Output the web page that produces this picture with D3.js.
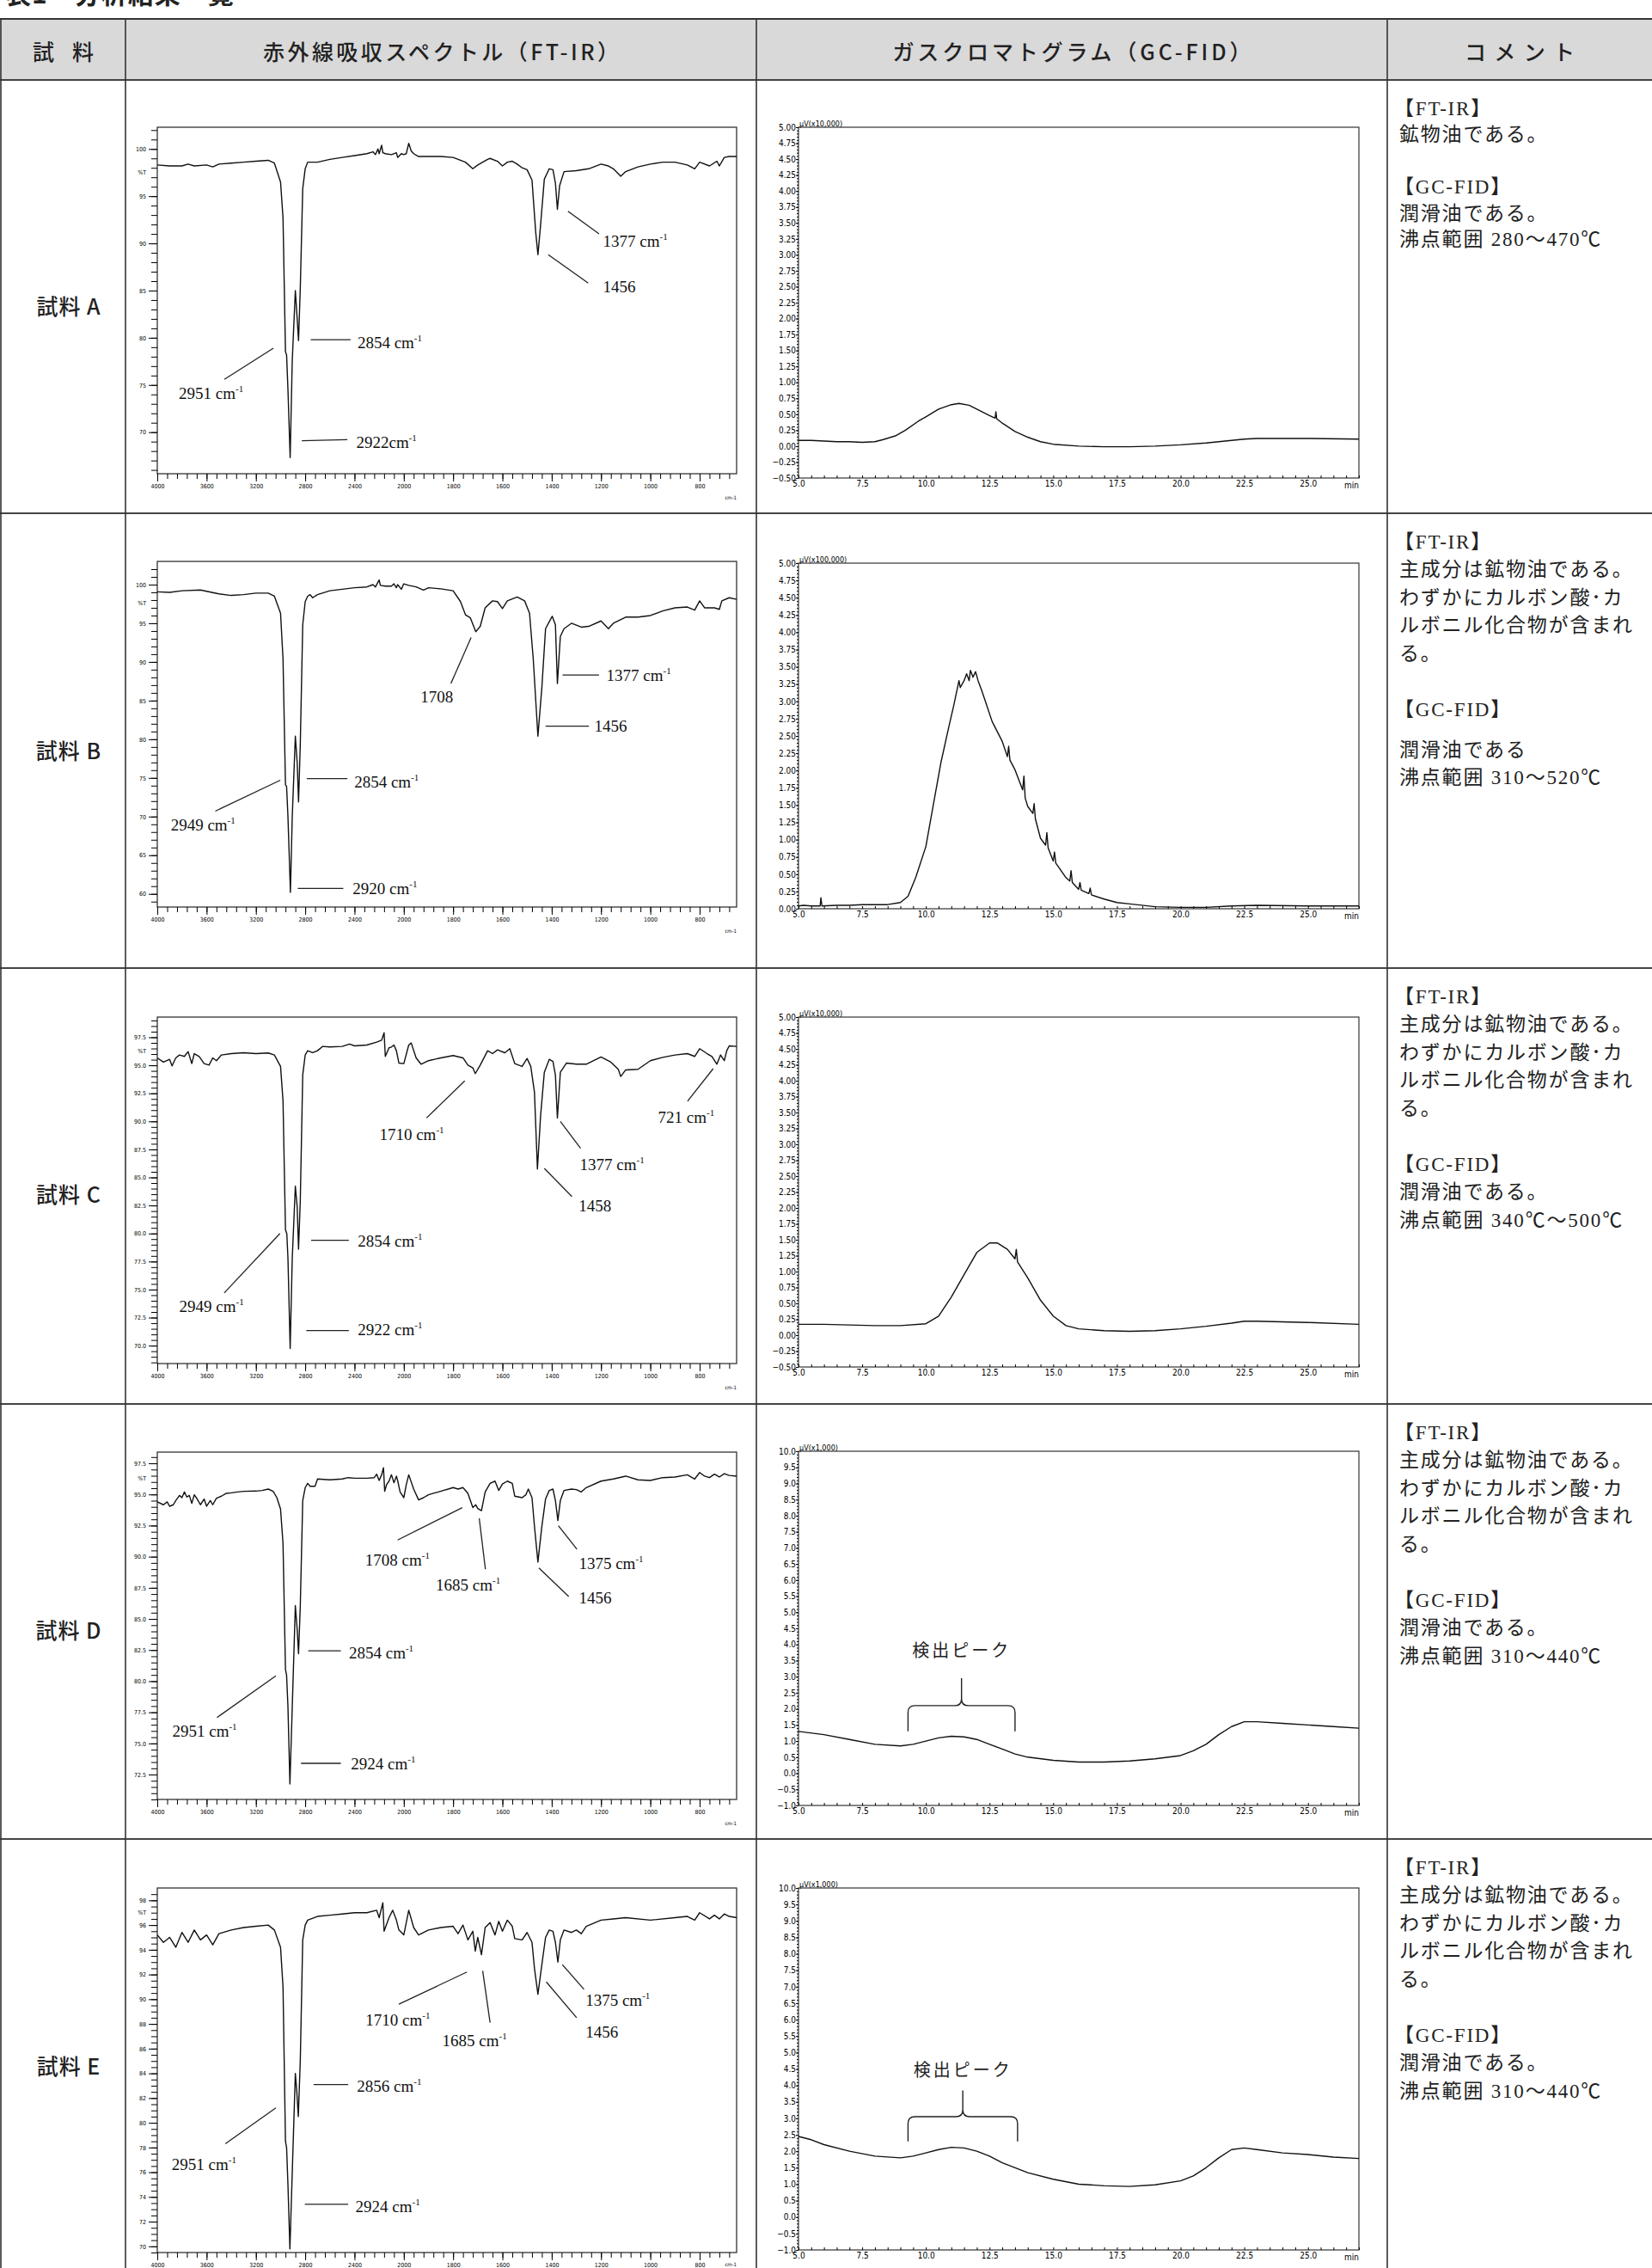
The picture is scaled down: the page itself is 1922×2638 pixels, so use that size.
<!DOCTYPE html>
<html>
<head>
<meta charset="utf-8">
<script src="https://cdn.jsdelivr.net/npm/d3@7"></script>
<style>
body { margin: 0; background: #fff; }
</style>
</head>
<body>
<div id="viz"></div>
<script>

// ---- Table texts ----
var title = "表1　分析結果一覧";
var headers = ["試料", "赤外線吸収スペクトル（FT-IR）", "ガスクロマトグラム（GC-FID）", "コメント"];
var samples = ["試料 A", "試料 B", "試料 C", "試料 D", "試料 E"];

// "" = blank line, "-" = half blank line
var commentA = ["【FT-IR】", "鉱物油である。", "", "【GC-FID】", "潤滑油である。", "沸点範囲  280～470℃"];
var commentB = ["【FT-IR】", "主成分は鉱物油である。", "わずかにカルボン酸･カ", "ルボニル化合物が含まれ", "る。", "", "【GC-FID】", "-", "潤滑油である", "沸点範囲 310～520℃"];
var commentC = ["【FT-IR】", "主成分は鉱物油である。", "わずかにカルボン酸･カ", "ルボニル化合物が含まれ", "る。", "", "【GC-FID】", "潤滑油である。", "沸点範囲 340℃～500℃"];
var commentD = ["【FT-IR】", "主成分は鉱物油である。", "わずかにカルボン酸･カ", "ルボニル化合物が含まれ", "る。", "", "【GC-FID】", "潤滑油である。", "沸点範囲 310～440℃"];
var commentE = ["【FT-IR】", "主成分は鉱物油である。", "わずかにカルボン酸･カ", "ルボニル化合物が含まれ", "る。", "", "【GC-FID】", "潤滑油である。", "沸点範囲 310～440℃"];

// ---- FT-IR spectra: [wavenumber cm-1, %T] ----
var irA = [[4000,98.3],[3900,98.2],[3800,98.2],[3750,98.4],[3700,98.2],[3600,98.3],[3550,98.1],[3500,98.4],[3400,98.5],[3300,98.6],[3200,98.7],[3100,98.8],[3050,98.5],[3000,96.5],[2980,92.7],[2960,78.5],[2951,78.2],[2940,74.5],[2922,67.3],[2905,77.6],[2880,85.0],[2865,82.0],[2854,79.7],[2840,85.2],[2820,95.8],[2800,97.9],[2780,98.6],[2700,98.6],[2600,98.9],[2500,99.1],[2400,99.3],[2300,99.5],[2250,99.7],[2230,99.4],[2210,100.0],[2200,99.5],[2180,100.4],[2170,99.6],[2150,99.5],[2100,99.4],[2060,99.6],[2050,99.1],[2020,99.5],[2000,99.4],[1990,99.5],[1980,100.6],[1970,99.8],[1960,99.5],[1940,99.2],[1900,99.2],[1850,99.2],[1800,99.1],[1750,98.6],[1720,97.9],[1700,98.3],[1660,98.9],[1650,99.0],[1620,98.7],[1600,98.2],[1580,98.6],[1560,98.7],[1540,98.4],[1520,98.0],[1500,97.8],[1480,96.7],[1465,91.2],[1456,88.8],[1445,92.0],[1430,96.8],[1410,97.9],[1395,97.8],[1385,96.4],[1377,93.6],[1368,96.1],[1350,97.6],[1300,97.7],[1250,97.9],[1200,98.4],[1170,98.2],[1150,97.9],[1120,97.1],[1100,97.6],[1050,98.1],[1000,98.4],[950,98.6],[900,98.6],[850,98.3],[820,97.9],[800,98.6],[760,98.2],[730,98.7],[720,98.2],[700,99.1],[680,99.2],[650,99.2]];
var irB = [[4000,99.07],[3900,99.0],[3800,99.2],[3650,99.3],[3500,98.8],[3400,98.6],[3300,98.7],[3200,98.9],[3100,98.9],[3050,98.5],[3000,96.3],[2980,90.4],[2960,74.1],[2951,73.9],[2940,70.0],[2920,60.2],[2905,70.0],[2880,80.4],[2865,77.0],[2854,71.9],[2840,79.3],[2820,94.8],[2800,97.8],[2780,98.5],[2760,98.7],[2740,98.3],[2700,98.7],[2600,99.2],[2500,99.4],[2400,99.6],[2300,99.7],[2250,100.0],[2230,99.7],[2200,100.6],[2190,99.9],[2150,99.8],[2100,99.8],[2080,100.1],[2060,99.6],[2050,100.0],[2020,99.4],[2000,100.1],[1980,99.9],[1950,99.7],[1920,99.3],[1900,99.6],[1850,99.45],[1800,99.2],[1770,97.8],[1750,96.1],[1730,95.7],[1708,93.9],[1690,94.6],[1670,97.0],[1640,97.9],[1620,97.8],[1600,96.9],[1580,97.9],[1540,98.4],[1510,97.9],[1490,96.3],[1475,90.4],[1456,80.4],[1440,86.7],[1425,94.3],[1410,95.2],[1398,95.9],[1385,94.8],[1377,87.2],[1365,93.3],[1350,94.3],[1320,95.0],[1280,94.5],[1250,94.6],[1200,95.3],[1170,94.3],[1150,95.0],[1100,95.8],[1050,95.8],[1000,96.0],[950,96.6],[900,97.0],[850,97.1],[820,96.7],[800,97.9],[780,97.0],[740,97.0],[720,96.8],[710,97.9],[680,98.3],[650,98.1]];
var irC = [[4000,95.66],[3950,95.28],[3900,95.53],[3880,94.95],[3850,95.66],[3820,95.92],[3780,95.79],[3750,96.22],[3720,95.15],[3700,96.04],[3660,95.79],[3620,95.15],[3580,95.02],[3550,95.66],[3520,95.41],[3480,95.92],[3400,96.04],[3300,96.12],[3200,96.04],[3100,96.1],[3050,95.92],[3000,94.9],[2980,91.83],[2960,80.34],[2949,79.96],[2940,77.79],[2922,69.74],[2905,77.79],[2880,84.22],[2865,82.38],[2854,78.6],[2840,82.9],[2820,94.13],[2800,95.92],[2780,96.3],[2740,96.12],[2700,96.3],[2660,96.68],[2600,96.63],[2500,96.68],[2440,96.89],[2400,96.73],[2300,96.81],[2220,97.07],[2180,97.24],[2160,97.9],[2150,95.79],[2120,96.56],[2100,96.63],[2080,96.81],[2060,96.3],[2040,95.2],[2000,95.15],[1980,96.81],[1970,96.99],[1950,95.66],[1930,95.1],[1900,95.41],[1850,95.66],[1800,95.87],[1760,95.66],[1740,95.02],[1720,94.77],[1710,94.26],[1690,95.02],[1660,96.3],[1640,96.04],[1620,96.38],[1590,96.12],[1570,96.48],[1550,95.15],[1520,94.9],[1500,95.61],[1485,94.9],[1470,92.6],[1458,85.75],[1445,90.55],[1430,94.38],[1410,95.53],[1395,95.35],[1385,94.13],[1377,90.3],[1365,94.38],[1340,95.2],[1300,95.1],[1260,95.1],[1200,95.74],[1160,95.28],[1130,94.64],[1120,94.0],[1100,94.59],[1050,94.64],[1000,95.41],[950,95.71],[900,95.92],[850,96.04],[820,95.79],[800,96.48],[770,96.04],[750,95.79],[730,95.1],[715,95.92],[700,95.41],[690,96.3],[680,96.73],[650,96.68]];
var irD = [[4000,94.4],[3950,94.17],[3920,94.4],[3900,94.05],[3870,94.17],[3850,94.51],[3820,94.92],[3800,94.74],[3780,95.2],[3760,94.79],[3740,94.92],[3720,94.28],[3700,94.97],[3680,94.69],[3650,94.17],[3620,94.63],[3600,94.05],[3570,94.51],[3550,94.17],[3520,94.69],[3480,94.86],[3440,95.09],[3400,95.13],[3350,95.2],[3300,95.25],[3200,95.27],[3150,95.32],[3100,95.43],[3060,95.25],[3030,94.74],[3000,93.82],[2980,91.06],[2960,80.94],[2951,80.48],[2940,77.95],[2924,71.74],[2905,77.95],[2880,86.07],[2865,84.16],[2854,82.2],[2840,86.0],[2820,94.51],[2800,95.55],[2780,95.89],[2760,95.66],[2720,95.66],[2700,96.24],[2600,96.17],[2500,96.24],[2450,96.35],[2400,96.3],[2300,96.3],[2240,96.35],[2220,96.63],[2200,96.12],[2180,96.58],[2165,97.15],[2155,95.25],[2140,95.78],[2120,96.07],[2100,96.58],[2080,95.94],[2060,96.47],[2050,96.12],[2030,95.2],[2000,94.74],[1990,95.78],[1980,96.58],[1960,95.43],[1940,94.56],[1920,94.74],[1900,94.97],[1880,95.09],[1860,95.2],[1840,95.32],[1820,95.43],[1800,95.55],[1780,95.43],[1760,95.55],[1740,95.09],[1720,93.94],[1708,94.17],[1700,93.87],[1685,93.7],[1670,95.2],[1650,95.89],[1630,96.07],[1615,95.32],[1600,95.84],[1580,96.07],[1560,95.89],[1550,94.86],[1520,94.74],[1505,94.97],[1495,95.43],[1480,94.74],[1470,92.44],[1456,89.57],[1440,92.44],[1425,94.63],[1410,95.32],[1395,95.43],[1385,94.51],[1375,92.9],[1365,94.51],[1350,95.32],[1320,95.43],[1300,95.39],[1280,95.2],[1260,95.55],[1200,96.07],[1150,96.24],[1100,96.47],[1050,96.17],[1000,96.12],[950,96.35],[900,96.4],[850,96.58],[820,96.24],[800,96.76],[780,96.47],[760,96.35],[740,96.63],[720,96.4],[700,96.67],[680,96.53],[650,96.47]];
var irE = [[4000,95.2],[3950,94.6],[3900,95.0],[3850,94.2],[3800,95.4],[3750,94.6],[3700,95.6],[3650,94.8],[3600,95.2],[3550,94.4],[3500,95.3],[3400,95.6],[3300,95.8],[3200,95.9],[3100,96.0],[3050,95.6],[3000,94.2],[2980,91.0],[2960,78.5],[2951,78.0],[2940,75.0],[2924,69.8],[2905,76.0],[2880,84.0],[2868,82.5],[2856,80.5],[2840,85.0],[2820,94.8],[2800,96.0],[2780,96.4],[2700,96.7],[2600,96.8],[2500,96.9],[2400,97.0],[2300,97.0],[2220,97.2],[2200,96.6],[2170,97.8],[2160,95.5],[2120,96.6],[2090,97.2],[2060,96.4],[2040,95.6],[2000,95.2],[1980,97.2],[1960,95.8],[1940,95.2],[1900,95.6],[1850,95.8],[1800,95.9],[1780,95.3],[1760,96.0],[1740,94.8],[1720,95.5],[1710,93.9],[1700,95.0],[1685,93.6],[1670,95.8],[1650,96.2],[1630,95.2],[1615,96.3],[1600,95.5],[1580,96.4],[1560,95.9],[1550,94.9],[1520,94.8],[1500,95.4],[1480,94.6],[1470,92.5],[1456,90.4],[1440,92.8],[1425,95.0],[1410,95.6],[1395,95.5],[1385,94.6],[1375,93.0],[1365,94.8],[1350,95.6],[1320,95.4],[1300,95.6],[1280,95.3],[1260,95.9],[1200,96.4],[1150,96.5],[1100,96.6],[1000,96.4],[900,96.6],[850,96.7],[820,96.4],[800,97.0],[760,96.5],[740,96.8],[720,96.5],[700,96.9],[680,96.7],[650,96.6]];

// %T axis: domain, labelled ticks [from, to, step], minor step, decimals, "%T" position
var irAxisA = {dom: [65.6, 102.3], lab: [70, 100, 5], minor: 1, dec: 0, pT: 97.5};
var irAxisB = {dom: [58.3, 103], lab: [60, 100, 5], minor: 1, dec: 0, pT: 97.5};
var irAxisC = {dom: [68.4, 99.3], lab: [70, 97.5, 2.5], minor: 0.5, dec: 1, pT: 96.25};
var irAxisD = {dom: [70.5, 98.4], lab: [72.5, 97.5, 2.5], minor: 0.5, dec: 1, pT: 96.25};
var irAxisE = {dom: [69.5, 99], lab: [70, 98, 2], minor: 0.5, dec: 0, pT: 97};

var irLabelsX = [4000, 3600, 3200, 2800, 2400, 2000, 1800, 1600, 1400, 1200, 1000, 800];

// peak labels: text, superscript, leader line [[cm-1,%T],[cm-1,%T]], text anchor point
var peaksA = [
  {t: "1377 cm", s: "-1", p: [[1334, 93.4], [1208, 91.0]], at: [1192, 89.6]},
  {t: "1456", s: "", p: [[1414, 88.8], [1252, 85.8]], at: [1192, 84.8]},
  {t: "2854 cm", s: "-1", p: [[2755, 79.8], [2432, 79.8]], at: [2376, 78.9]},
  {t: "2951 cm", s: "-1", p: [[3058, 78.9], [3456, 75.6]], at: [3825, 73.5]},
  {t: "2922cm", s: "-1", p: [[2827, 69.1], [2458, 69.2]], at: [2386, 68.3]}
];
var peaksB = [
  {t: "1708", s: "", p: [[1727, 93.15], [1809, 87.2]], at: [1932, 84.8]},
  {t: "1377 cm", s: "-1", p: [[1356, 88.3], [1208, 88.3]], at: [1178, 87.5]},
  {t: "1456", s: "", p: [[1425, 81.7], [1249, 81.7]], at: [1227, 81.0]},
  {t: "2854 cm", s: "-1", p: [[2787, 74.9], [2458, 74.9]], at: [2402, 73.8]},
  {t: "2949 cm", s: "-1", p: [[3002, 74.7], [3529, 70.7]], at: [3891, 68.2]},
  {t: "2920 cm", s: "-1", p: [[2860, 60.7], [2491, 60.7]], at: [2415, 60.0]}
];
var peaksC = [
  {t: "1710 cm", s: "-1", p: [[1753, 93.6], [1908, 90.3]], at: [2198, 88.3]},
  {t: "721 cm", s: "-1", p: [[745, 94.7], [849, 91.8]], at: [969, 89.9]},
  {t: "1377 cm", s: "-1", p: [[1365, 90.0], [1283, 87.6]], at: [1286, 85.65]},
  {t: "1458", s: "", p: [[1430, 85.8], [1318, 83.3]], at: [1291, 82.0]},
  {t: "2854 cm", s: "-1", p: [[2752, 79.4], [2446, 79.4]], at: [2373, 78.8]},
  {t: "2949 cm", s: "-1", p: [[3005, 80.0], [3457, 74.7]], at: [3822, 73.0]},
  {t: "2922 cm", s: "-1", p: [[2791, 71.35], [2446, 71.35]], at: [2373, 70.9]}
];
var peaksD = [
  {t: "1708 cm", s: "-1", p: [[1763, 93.94], [2050, 91.34]], at: [2314, 89.27]},
  {t: "1685 cm", s: "-1", p: [[1694, 93.08], [1669, 88.99]], at: [1870, 87.27]},
  {t: "1375 cm", s: "-1", p: [[1373, 92.49], [1298, 90.6]], at: [1290, 89.04]},
  {t: "1456", s: "", p: [[1452, 89.1], [1331, 86.8]], at: [1290, 86.28]},
  {t: "2854 cm", s: "-1", p: [[2775, 82.44], [2511, 82.44]], at: [2445, 81.81]},
  {t: "2951 cm", s: "-1", p: [[3038, 80.43], [3516, 77.08]], at: [3878, 75.54]},
  {t: "2924 cm", s: "-1", p: [[2834, 73.4], [2511, 73.4]], at: [2429, 72.94]}
];
var peaksE = [
  {t: "1710 cm", s: "-1", p: [[1744, 92.2], [2040, 89.6]], at: [2310, 87.9]},
  {t: "1685 cm", s: "-1", p: [[1680, 92.3], [1650, 88.1]], at: [1844, 86.2]},
  {t: "1375 cm", s: "-1", p: [[1357, 92.8], [1269, 90.8]], at: [1263, 89.5]},
  {t: "1456", s: "", p: [[1422, 91.4], [1299, 88.5]], at: [1263, 86.9]},
  {t: "2856 cm", s: "-1", p: [[2732, 83.1], [2451, 83.1]], at: [2380, 82.5]},
  {t: "2951 cm", s: "-1", p: [[3038, 81.2], [3448, 78.3]], at: [3883, 76.2]},
  {t: "2924 cm", s: "-1", p: [[2803, 73.4], [2451, 73.4]], at: [2392, 72.8]}
];

// ---- GC-FID chromatograms: [min, signal] ----
var gcA = [[5,0.09],[5.5,0.09],[6,0.08],[6.5,0.07],[7,0.07],[7.5,0.06],[8,0.07],[8.3,0.1],[8.8,0.16],[9.2,0.25],[9.7,0.39],[10,0.46],[10.5,0.58],[11,0.65],[11.3,0.67],[11.7,0.64],[12,0.58],[12.5,0.48],[12.72,0.44],[12.75,0.54],[12.78,0.43],[13,0.36],[13.5,0.23],[14,0.14],[14.5,0.07],[15,0.03],[16,0.0],[17,-0.01],[18,-0.01],[19,0.0],[20,0.02],[21,0.05],[22,0.09],[22.5,0.11],[23,0.12],[25,0.12],[27,0.11]];
var gcB = [[5,0.04],[5.2,0.05],[5.5,0.04],[5.85,0.04],[5.88,0.16],[5.92,0.04],[6.5,0.05],[7,0.05],[7.5,0.06],[8,0.06],[8.5,0.06],[9,0.09],[9.3,0.18],[9.6,0.45],[10,0.9],[10.3,1.52],[10.6,2.13],[10.9,2.63],[11.1,2.95],[11.3,3.3],[11.35,3.2],[11.5,3.3],[11.6,3.4],[11.7,3.3],[11.75,3.45],[11.85,3.35],[11.95,3.43],[12.05,3.3],[12.2,3.15],[12.3,3.04],[12.6,2.71],[13,2.42],[13.2,2.2],[13.25,2.35],[13.3,2.15],[13.5,2.01],[13.8,1.72],[13.85,1.92],[13.9,1.6],[14,1.48],[14.2,1.38],[14.25,1.52],[14.3,1.3],[14.5,1.02],[14.7,0.92],[14.75,1.1],[14.8,0.88],[15,0.69],[15.05,0.82],[15.1,0.66],[15.5,0.45],[15.65,0.4],[15.7,0.55],[15.75,0.38],[16,0.28],[16.05,0.38],[16.1,0.27],[16.4,0.22],[16.45,0.3],[16.5,0.2],[17,0.14],[17.5,0.09],[18,0.07],[19,0.03],[20,0.02],[21,0.02],[22,0.04],[23,0.05],[25,0.04],[27,0.04]];
var gcC = [[5,0.17],[6,0.17],[7,0.16],[8,0.15],[9,0.15],[10,0.18],[10.5,0.3],[11,0.6],[11.5,0.95],[12,1.3],[12.5,1.45],[12.8,1.45],[13.2,1.35],[13.5,1.2],[13.55,1.35],[13.6,1.15],[14,0.9],[14.5,0.55],[15,0.3],[15.5,0.15],[16,0.1],[17,0.07],[18,0.06],[19,0.07],[20,0.1],[21,0.14],[22,0.19],[22.5,0.22],[23,0.22],[25,0.2],[27,0.17]];
var gcD = [[5,1.3],[6,1.2],[7,1.05],[8,0.9],[9,0.85],[9.5,0.9],[10,1.0],[10.5,1.1],[11,1.15],[11.5,1.13],[12,1.05],[12.5,0.9],[13,0.75],[13.5,0.6],[14,0.5],[15,0.4],[16,0.35],[17,0.35],[18,0.38],[19,0.45],[20,0.55],[20.5,0.7],[21,0.9],[21.5,1.2],[22,1.45],[22.5,1.6],[23,1.6],[24,1.55],[25,1.5],[26,1.45],[27,1.4]];
var gcE = [[5,2.45],[5.5,2.35],[6,2.2],[7,2.0],[8,1.85],[9,1.8],[9.5,1.85],[10,1.95],[10.5,2.05],[11,2.12],[11.5,2.1],[12,2.0],[12.5,1.85],[13,1.65],[13.5,1.5],[14,1.35],[15,1.15],[16,1.0],[17,0.95],[18,0.93],[19,0.98],[20,1.1],[20.5,1.25],[21,1.5],[21.5,1.8],[22,2.05],[22.5,2.1],[23,2.05],[24,1.95],[25,1.9],[26,1.82],[27,1.78]];

var gcAxisA = {dom: [-0.5, 5], step: 0.25, unit: "μV(x10,000)"};
var gcAxisB = {dom: [0, 5], step: 0.25, unit: "μV(x100,000)"};
var gcAxisC = {dom: [-0.5, 5], step: 0.25, unit: "μV(x10,000)"};
var gcAxisD = {dom: [-1, 10], step: 0.5, unit: "μV(x1,000)"};
var gcAxisE = {dom: [-1, 10], step: 0.5, unit: "μV(x1,000)"};
var gcLabelsX = [5, 7.5, 10, 12.5, 15, 17.5, 20, 22.5, 25];

// "検出ピーク" brace: [start min, end min, foot, bar, tip, text]
var braceD = [9.3, 13.5, 1.3, 2.1, 2.95, 3.8];
var braceE = [9.3, 13.6, 2.3, 3.05, 3.85, 4.45];

// ---- Layout ----
var W = 1922, H = 2638;
var colX = [1, 146, 880, 1614];
var headTop = 22, headBottom = 93;
var rowTops = [93, 597, 1126, 1633, 2139];
var rowBottoms = [597, 1126, 1633, 2139, 2660];
var labelY = [355, 872, 1388, 1895, 2402];
var irFrames = [[148, 551], [653, 1055], [1183, 1586], [1689, 2093], [2196, 2620]];
var gcFrames = [[148, 556], [655, 1057], [1183, 1590], [1688, 2100], [2196, 2617]];
var irLeft = 183, irRight = 857, gcLeft = 929, gcRight = 1581;

var serif = "'Liberation Serif', 'Times New Roman', 'Noto Sans CJK JP', serif";
var gothic = "'Noto Sans CJK JP', 'Noto Sans', sans-serif";
var tiny = "'DejaVu Sans Condensed', 'Liberation Sans Narrow', 'DejaVu Sans', sans-serif";

var svg = d3.select("#viz").append("svg")
  .attr("width", W).attr("height", H)
  .style("background-color", "#fff");

// Title (only its lower edge shows at the top of the page)
svg.append("text").attr("x", 6).attr("y", 4)
  .attr("font-family", gothic).attr("font-size", 30).attr("font-weight", 700)
  .attr("letter-spacing", 1).attr("fill", "#222").text(title);

// Header background
svg.append("rect").attr("x", 0).attr("y", headTop).attr("width", W).attr("height", headBottom - headTop)
  .attr("fill", "#d9d9d9");

var headWidths = [71, 414, 417, 128];
var colCenters = [73.5, 513, 1247, 1768];
svg.selectAll(".head").data(headers).enter().append("text")
  .attr("class", "head")
  .attr("x", (d, i) => colCenters[i] - headWidths[i] / 2)
  .attr("y", (headTop + headBottom) / 2 + 1)
  .attr("dominant-baseline", "central")
  .attr("textLength", (d, i) => headWidths[i])
  .attr("lengthAdjust", "spacing")
  .attr("font-family", gothic).attr("font-size", 25).attr("font-weight", 500)
  .attr("fill", "#222")
  .text(d => d);

// Row labels
svg.selectAll(".sample").data(samples).enter().append("text")
  .attr("class", "sample")
  .attr("x", 80).attr("y", (d, i) => labelY[i])
  .attr("text-anchor", "middle").attr("dominant-baseline", "central")
  .attr("font-family", gothic).attr("font-size", 25).attr("font-weight", 500)
  .attr("letter-spacing", 1).attr("fill", "#222")
  .text(d => d);

// Table rules
svg.append("line").attr("x1", 0).attr("x2", W).attr("y1", headTop).attr("y2", headTop)
  .attr("stroke", "#333").attr("stroke-width", 2.2);
svg.selectAll(".hrule").data([headBottom].concat(rowBottoms.slice(0, 4))).enter().append("line")
  .attr("class", "hrule")
  .attr("x1", 0).attr("x2", W).attr("y1", d => d).attr("y2", d => d)
  .attr("stroke", "#444").attr("stroke-width", 2);
svg.selectAll(".vrule").data(colX).enter().append("line")
  .attr("class", "vrule")
  .attr("x1", d => d).attr("x2", d => d).attr("y1", headTop).attr("y2", H)
  .attr("stroke", "#333").attr("stroke-width", 1.6);

// Comments
var comments = [commentA, commentB, commentC, commentD, commentE];
var lineSteps = [30.5, 32.5, 32.5, 32.5, 32.5];
comments.forEach((lines, r) => {
  var yy = rowTops[r] + 33;
  lines.forEach(line => {
    if (line === "") { yy += lineSteps[r]; return; }
    if (line === "-") { yy += lineSteps[r] * 0.45; return; }
    svg.append("text")
      .attr("x", line.charAt(0) == "【" ? 1622 : 1628).attr("y", yy)
      .attr("dominant-baseline", "central")
      .attr("font-family", serif).attr("font-size", 23)
      .attr("letter-spacing", 1.8).attr("fill", "#222")
      .text(line);
    yy += lineSteps[r];
  });
});

// ---- FT-IR panels ----
function drawIR(i, data, ax, peaks) {
  var f = irFrames[i];
  var x = d3.scaleLinear().domain([4000, 2000, 650])
    .range([irLeft, irLeft + (irRight - irLeft) * 5 / 11.75, irRight]);
  var y = d3.scaleLinear().domain(ax.dom).range([f[1], f[0]]);
  var g = svg.append("g");

  g.append("rect").attr("x", irLeft).attr("y", f[0])
    .attr("width", irRight - irLeft).attr("height", f[1] - f[0])
    .attr("fill", "none").attr("stroke", "#333").attr("stroke-width", 1.3);

  var minorY = d3.range(Math.ceil(ax.dom[0] / ax.minor) * ax.minor, ax.dom[1], ax.minor);
  g.append("g").attr("transform", `translate(${irLeft},0)`)
    .call(d3.axisLeft(y).tickValues(minorY).tickSize(7).tickFormat(""))
    .call(s => s.select(".domain").remove());
  var majorY = d3.range(ax.lab[0], ax.lab[1] + 1e-6, ax.lab[2]);
  g.append("g").attr("transform", `translate(${irLeft},0)`)
    .call(d3.axisLeft(y).tickValues(majorY).tickSize(10).tickPadding(3).tickFormat(d3.format("." + ax.dec + "f")))
    .call(s => s.select(".domain").remove())
    .attr("font-family", tiny).attr("font-size", 7);
  g.append("text").attr("x", irLeft - 13).attr("y", y(ax.pT))
    .attr("text-anchor", "end").attr("dominant-baseline", "central")
    .attr("font-family", tiny).attr("font-size", 7).text("%T");

  var minorX = d3.range(4000, 2000, -80).concat(d3.range(2000, 649, -40));
  g.append("g").attr("transform", `translate(0,${f[1]})`)
    .call(d3.axisBottom(x).tickValues(minorX).tickSize(6).tickFormat(""))
    .call(s => s.select(".domain").remove());
  g.append("g").attr("transform", `translate(0,${f[1]})`)
    .call(d3.axisBottom(x).tickValues(irLabelsX).tickSize(9).tickPadding(3).tickFormat(d3.format("d")))
    .call(s => s.select(".domain").remove())
    .attr("font-family", tiny).attr("font-size", 7);
  g.append("text").attr("x", irRight).attr("y", Math.min(f[1] + 30, H - 2))
    .attr("text-anchor", "end")
    .attr("font-family", tiny).attr("font-size", 6).text("cm-1");

  g.append("path").datum(data)
    .attr("d", d3.line().x(d => x(d[0])).y(d => y(d[1])))
    .attr("fill", "none").attr("stroke", "#111").attr("stroke-width", 1.4)
    .attr("stroke-linejoin", "round");

  peaks.forEach(a => {
    g.append("line")
      .attr("x1", x(a.p[0][0])).attr("y1", y(a.p[0][1]))
      .attr("x2", x(a.p[1][0])).attr("y2", y(a.p[1][1]))
      .attr("stroke", "#222").attr("stroke-width", 1.3);
    var t = g.append("text").attr("x", x(a.at[0])).attr("y", y(a.at[1]))
      .attr("font-family", serif).attr("font-size", 19).attr("fill", "#111");
    t.append("tspan").text(a.t);
    if (a.s) t.append("tspan").attr("dy", -8).attr("font-size", 11).text(a.s);
  });
}

// ---- GC panels ----
function drawGC(i, data, ax, brace) {
  var f = gcFrames[i];
  var x = d3.scaleLinear().domain([5, 27]).range([gcLeft, gcRight]);
  var y = d3.scaleLinear().domain(ax.dom).range([f[1], f[0]]);
  var g = svg.append("g");

  g.append("rect").attr("x", gcLeft).attr("y", f[0])
    .attr("width", gcRight - gcLeft).attr("height", f[1] - f[0])
    .attr("fill", "none").attr("stroke", "#333").attr("stroke-width", 1.2);

  var minorStep = ax.step / 5;
  var minorY = d3.range(ax.dom[0], ax.dom[1] + 1e-6, minorStep);
  g.append("g").attr("transform", `translate(${gcLeft},0)`)
    .call(d3.axisLeft(y).tickValues(minorY).tickSize(2).tickFormat(""))
    .call(s => s.select(".domain").remove());
  var majorY = d3.range(ax.dom[0], ax.dom[1] + 1e-6, ax.step);
  g.append("g").attr("transform", `translate(${gcLeft},0)`)
    .call(d3.axisLeft(y).tickValues(majorY).tickSize(3).tickPadding(0)
      .tickFormat(d3.format(ax.step < 0.5 ? ".2f" : ".1f")))
    .call(s => s.select(".domain").remove())
    .attr("font-family", tiny).attr("font-size", 10);
  g.append("text").attr("x", gcLeft + 1).attr("y", f[0] - 1)
    .attr("font-family", tiny).attr("font-size", 9).text(ax.unit);

  g.append("g").attr("transform", `translate(0,${f[1]})`)
    .call(d3.axisBottom(x).tickValues(d3.range(5, 27.01, 0.5)).tickSize(-3).tickFormat(""))
    .call(s => s.select(".domain").remove());
  g.append("g").attr("transform", `translate(0,${f[1]})`)
    .call(d3.axisBottom(x).tickValues(gcLabelsX).tickSize(0).tickPadding(3).tickFormat(d3.format(".1f")))
    .call(s => s.select(".domain").remove())
    .attr("font-family", tiny).attr("font-size", 10);
  g.append("text").attr("x", x(27)).attr("y", f[1] + 12)
    .attr("text-anchor", "end")
    .attr("font-family", tiny).attr("font-size", 10).text("min");

  g.append("path").datum(data)
    .attr("d", d3.line().x(d => x(d[0])).y(d => y(d[1])))
    .attr("fill", "none").attr("stroke", "#111").attr("stroke-width", 1.4)
    .attr("stroke-linejoin", "round");

  if (brace) {
    var x0 = x(brace[0]), x1 = x(brace[1]), xc = (x0 + x1) / 2;
    var yb = y(brace[2]), yt = y(brace[3]), ys = y(brace[4]), r = 8;
    var p = d3.path();
    p.moveTo(x0, yb); p.lineTo(x0, yt + r);
    p.quadraticCurveTo(x0, yt, x0 + r, yt);
    p.lineTo(xc - r, yt); p.quadraticCurveTo(xc, yt, xc, yt - r);
    p.lineTo(xc, ys);
    p.moveTo(xc, yt - r); p.quadraticCurveTo(xc, yt, xc + r, yt);
    p.lineTo(x1 - r, yt); p.quadraticCurveTo(x1, yt, x1, yt + r);
    p.lineTo(x1, yb);
    g.append("path").attr("d", p.toString())
      .attr("fill", "none").attr("stroke", "#222").attr("stroke-width", 1.4);
    g.append("text").attr("x", xc).attr("y", y(brace[5]))
      .attr("text-anchor", "middle").attr("dominant-baseline", "central")
      .attr("font-family", serif).attr("font-size", 20).attr("letter-spacing", 3)
      .attr("fill", "#222").text("検出ピーク");
  }
}

drawIR(0, irA, irAxisA, peaksA);
drawIR(1, irB, irAxisB, peaksB);
drawIR(2, irC, irAxisC, peaksC);
drawIR(3, irD, irAxisD, peaksD);
drawIR(4, irE, irAxisE, peaksE);

drawGC(0, gcA, gcAxisA, null);
drawGC(1, gcB, gcAxisB, null);
drawGC(2, gcC, gcAxisC, null);
drawGC(3, gcD, gcAxisD, braceD);
drawGC(4, gcE, gcAxisE, braceE);

</script>
</body>
</html>
